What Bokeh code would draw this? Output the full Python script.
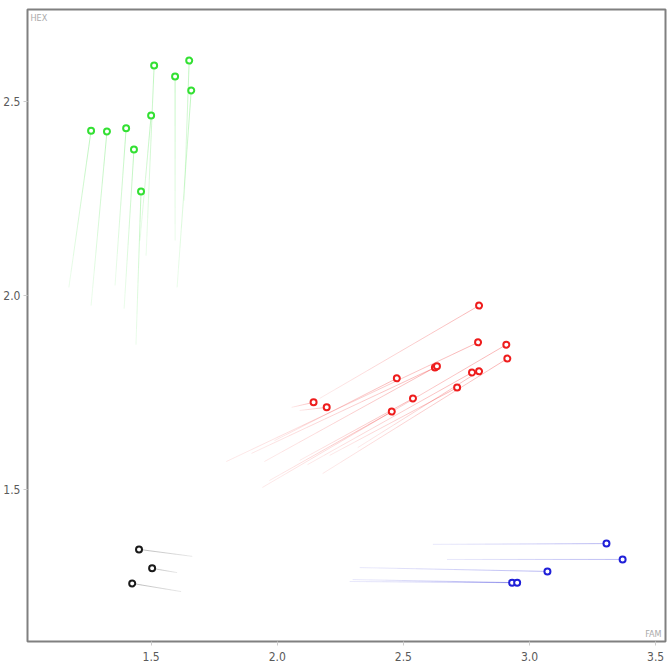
import numpy as np
from bokeh.plotting import figure
from bokeh.models import Range1d, FixedTicker, Label, ColumnDataSource, PrintfTickFormatter
from bokeh.embed import file_html
from bokeh.resources import INLINE

# ---------------- data ----------------
green_fam = [1.262, 1.325, 1.401, 1.432, 1.460, 1.500, 1.512, 1.595, 1.651, 1.659]
green_hex = [2.426, 2.424, 2.432, 2.377, 2.269, 2.465, 2.594, 2.566, 2.607, 2.530]
green_fam_prev = [1.174, 1.262, 1.357, 1.393, 1.440, 1.456, 1.480, 1.595, 1.631, 1.603]
green_hex_prev = [2.021, 1.974, 2.026, 1.966, 1.873, 2.142, 2.103, 2.142, 2.245, 2.021]

red_fam = [2.800, 2.796, 2.908, 2.912, 2.625, 2.633, 2.772, 2.800, 2.474, 2.713, 2.538, 2.454, 2.144, 2.196]
red_hex = [1.974, 1.879, 1.873, 1.837, 1.814, 1.817, 1.801, 1.804, 1.786, 1.762, 1.734, 1.700, 1.724, 1.711]
red_fam_prev = [2.168, 1.798, 1.941, 2.180, 1.898, 1.949, 2.120, 2.319, 1.989, 2.208, 2.089, 1.969, 2.057, 2.089]
red_hex_prev = [1.734, 1.571, 1.504, 1.540, 1.592, 1.571, 1.563, 1.607, 1.625, 1.587, 1.574, 1.522, 1.711, 1.703]

black_fam = [1.452, 1.504, 1.425]
black_hex = [1.344, 1.295, 1.256]
black_fam_prev = [1.663, 1.603, 1.619]
black_hex_prev = [1.326, 1.284, 1.235]

blue_fam = [3.305, 3.369, 3.071, 2.931, 2.951]
blue_hex = [1.359, 1.318, 1.287, 1.258, 1.258]
blue_fam_prev = [2.617, 2.673, 2.327, 2.287, 2.299]
blue_hex_prev = [1.357, 1.318, 1.297, 1.261, 1.266]

x_ticks = [1.5, 2.0, 2.5, 3.0, 3.5]
y_ticks = [1.5, 2.0, 2.5]
x_label = "FAM"
y_label = "HEX"

groups = [
    ("#33e033", green_fam, green_hex, green_fam_prev, green_hex_prev),
    ("#ee1c1c", red_fam, red_hex, red_fam_prev, red_hex_prev),
    ("#1a1a1a", black_fam, black_hex, black_fam_prev, black_hex_prev),
    ("#2020d8", blue_fam, blue_hex, blue_fam_prev, blue_hex_prev),
]

FONT = "'Liberation Sans Narrow', 'DejaVu Sans Condensed', sans-serif"
X0, X1, Y0, Y1 = 1.010, 3.539, 1.106, 2.739

p = figure(width=667, height=664, output_backend="svg", toolbar_location=None,
           x_range=Range1d(X0, X1), y_range=Range1d(Y0, Y1),
           min_border_left=21, min_border_right=2, min_border_top=9, min_border_bottom=23)

p.outline_line_color = "#808080"
p.outline_line_width = 2
p.xgrid.visible = False
p.ygrid.visible = False
p.background_fill_color = "white"
p.border_fill_color = "white"

for ax, ticks, standoff in ((p.xaxis[0], x_ticks, 6), (p.yaxis[0], y_ticks, 3)):
    ax.ticker = FixedTicker(ticks=ticks)
    ax.formatter = PrintfTickFormatter(format="%.1f")
    ax.axis_line_color = None
    ax.major_tick_line_color = "#cccccc"
    ax.major_tick_out = 4
    ax.major_tick_in = 0
    ax.minor_tick_line_color = None
    ax.major_label_text_font = FONT
    ax.major_label_text_font_size = "12px"
    ax.major_label_text_color = "#5a5a5a"
    ax.major_label_standoff = standoff
p.yaxis[0].major_label_orientation = "horizontal"

# trails (fading towards the previous position)
n = 10
for color, xs, ys, xp, yp in groups:
    d = dict(x0=[], y0=[], x1=[], y1=[], a=[])
    for xa, ya, xb, yb in zip(xp, yp, xs, ys):
        tx = np.linspace(xa, xb, n + 1)
        ty = np.linspace(ya, yb, n + 1)
        al = np.linspace(0.10, 0.30, n)
        d["x0"] += list(tx[:-1]); d["y0"] += list(ty[:-1])
        d["x1"] += list(tx[1:]); d["y1"] += list(ty[1:])
        d["a"] += list(al)
    p.segment("x0", "y0", "x1", "y1", source=ColumnDataSource(d),
              line_color=color, line_alpha="a", line_width=1)

for color, xs, ys, xp, yp in groups:
    p.scatter(xs, ys, size=6, marker="circle", fill_color="white",
              line_color=color, line_width=2)

p.add_layout(Label(x=X0, y=Y1, text=y_label, x_offset=3, y_offset=-3,
                   text_baseline="top", text_font=FONT, text_font_size="9px",
                   text_color="#aaaaaa"))
p.add_layout(Label(x=X1, y=Y0, text=x_label, x_offset=-4, y_offset=3,
                   text_align="right", text_baseline="bottom", text_font=FONT,
                   text_font_size="9px", text_color="#aaaaaa"))

open("out.html", "w").write(file_html(p, INLINE))
